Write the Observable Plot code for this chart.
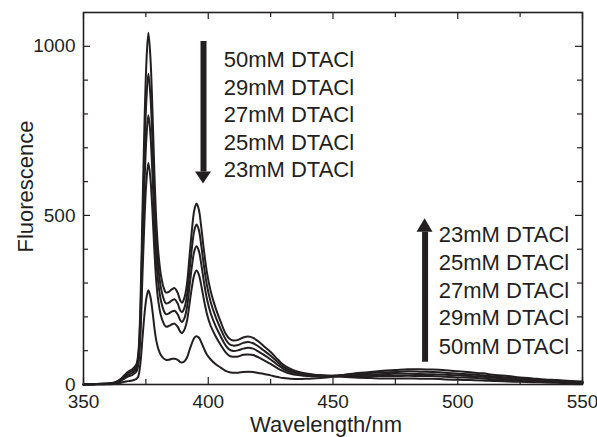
<!DOCTYPE html>
<html><head><meta charset="utf-8">
<script src="https://cdn.jsdelivr.net/npm/d3@7"></script>
<script src="https://cdn.jsdelivr.net/npm/@observablehq/plot@0.6"></script>
<style>body{margin:0;background:#fff} #chart svg{display:block}</style>
</head><body><div id="chart"></div>
<script>
// ---- data ----
const wavelength = [350,354,358,361,363,365,366.5,368,369.5,370.5,
  371.3,372,372.8,373.6,374.4,375.2,376,376.8,377.6,378.4,
  379.2,380,381,382,383,384.2,385.5,386.5,387.7,388.8,
  389.5,390.5,391.5,392.5,393.5,394.4,395.3,396.2,397.2,398.3,
  399.5,401,403,405,407,408.5,410,412,414,416,
  418,420,422,425,428,430,433,436,440,445,
  450,455,460,465,470,475,480,485,490,495,
  500,505,510,515,520,525,530,535,540,545,550];
const fl50mM = [0,1,2,4,8,17,28,38,45,52, 62,95,230,500,760,950,1040,970,820,630, 480,390,325,290,272,274,282,285,272,248, 242,258,300,380,460,515,535,518,465,395, 330,275,225,185,150,135,130,132,139,142, 138,128,115,96,73,59,46,38,32,27, 24,22,20,19,18,18,18,17,17,15, 14,13,12,10,9,8,7,6,5,4, 4];
const fl29mM = [0,1,2,4,7,15,25,34,40,46, 55,84,203,442,672,840,919,857,725,557, 424,345,287,256,240,242,249,252,240,219, 214,228,265,336,407,455,473,458,411,349, 292,243,199,164,133,119,115,117,123,126, 122,113,102,85,65,53,41,35,30,27, 25,25,24,25,25,25,26,25,25,23, 21,20,18,15,13,12,10,8,7,6, 5];
const fl27mM = [0,1,2,3,6,13,21,29,34,40, 47,73,176,383,581,727,796,742,627,482, 367,298,249,222,208,210,216,218,208,190, 185,197,230,291,352,394,409,396,356,302, 252,210,172,142,115,103,99,101,106,109, 106,98,89,74,57,47,37,32,28,26, 26,27,28,29,31,32,32,31,30,29, 27,25,23,20,17,15,12,11,9,8, 6];
const fl25mM = [0,1,1,3,5,11,18,24,28,33, 39,60,145,315,479,599,655,611,517,397, 302,246,205,183,171,173,178,180,171,156, 152,163,189,239,290,324,337,326,293,249, 208,173,142,117,95,85,82,83,88,89, 87,81,73,61,47,40,32,28,25,25, 26,29,31,34,36,37,39,38,37,35, 32,30,27,24,21,18,15,13,11,9, 7];
const fl23mM = [0,0,1,1,2,5,8,10,12,14, 17,25,62,134,204,255,279,260,220,169, 129,105,87,78,73,73,76,76,73,66, 65,69,80,102,123,138,143,139,125,106, 88,74,60,50,40,36,35,35,37,38, 37,34,32,27,22,19,17,16,17,19, 23,29,34,37,41,43,45,45,44,42, 39,36,33,28,25,21,18,15,13,10, 9];
const seriesNames = ["50mM","29mM","27mM","25mM","23mM"];
const seriesValues = [fl50mM, fl29mM, fl27mM, fl25mM, fl23mM];

const xMajorTicks = [350,400,450,500,550];
const xMinorTicks = [375,425,475,525];
const yMajorTicks = [0,500,1000];
const yMinorTicks = [100,200,300,400,600,700,800,900];

const downLabels = ["50mM DTACl","29mM DTACl","27mM DTACl","25mM DTACl","23mM DTACl"];
const upLabels   = ["23mM DTACl","25mM DTACl","27mM DTACl","29mM DTACl","50mM DTACl"];
const downLabelX = 406.2, downLabelY = [938, 857, 776, 694.5, 613];
const upLabelX = 492.4, upLabelY = [420.8, 339, 256.4, 174.5, 90.8];
const downArrow = {x: 398.1, from: 1014, base: 628, tip: 593, half: 3.2};
const upArrow   = {x: 486.9, from: 66, base: 450, tip: 490, half: 3.2};

// ---- layout ----
const ink = "#231f20";
const W = 597, H = 437, mL = 83, mR = 15, mT = 12, mB = 53;
const innerW = W - mL - mR, innerH = H - mT - mB;
const font = "'Liberation Sans', Arial, Helvetica, sans-serif";

const table = seriesNames.flatMap((name, k) =>
  wavelength.map((w, i) => ({wavelength: w, value: seriesValues[k][i], series: name})));

const head = a => [
  {x: a.x - a.half, y1: a.base, y2: a.base},
  {x: a.x, y1: a.tip, y2: a.base},
  {x: a.x + a.half, y1: a.base, y2: a.base}];

const major = 7, minor = 5;
const chart = Plot.plot({
  width: W, height: H,
  marginLeft: mL, marginRight: mR, marginTop: mT, marginBottom: mB,
  style: {fontFamily: font, background: "#fff", color: ink},
  x: {domain: [350, 550], axis: null},
  y: {domain: [0, 1100], axis: null},
  marks: [
    Plot.line(table, {x: "wavelength", y: "value", z: "series", stroke: ink, strokeWidth: 2, curve: "catmull-rom"}),
    // ticks (inward)
    Plot.ruleX(xMajorTicks, {x: d => d, insetTop: innerH - major, stroke: ink, strokeWidth: 1.2}),
    Plot.ruleX(xMinorTicks, {x: d => d, insetTop: innerH - minor, stroke: ink, strokeWidth: 1.2}),
    Plot.ruleX(xMajorTicks, {x: d => d, insetBottom: innerH - major, stroke: ink, strokeWidth: 1.2}),
    Plot.ruleX(xMinorTicks, {x: d => d, insetBottom: innerH - minor, stroke: ink, strokeWidth: 1.2}),
    Plot.ruleY(yMajorTicks, {y: d => d, insetRight: innerW - major, stroke: ink, strokeWidth: 1.2}),
    Plot.ruleY(yMinorTicks, {y: d => d, insetRight: innerW - minor, stroke: ink, strokeWidth: 1.2}),
    Plot.ruleY(yMajorTicks, {y: d => d, insetLeft: innerW - major, stroke: ink, strokeWidth: 1.2}),
    Plot.ruleY(yMinorTicks, {y: d => d, insetLeft: innerW - minor, stroke: ink, strokeWidth: 1.2}),
    Plot.frame({stroke: ink, strokeWidth: 1.6}),
    // tick labels
    Plot.text(xMajorTicks, {x: d => d, text: d => String(d), frameAnchor: "bottom", dy: 17.7, textAnchor: "middle", lineAnchor: "middle", fontSize: 19, fill: ink}),
    Plot.text(yMajorTicks, {y: d => d, text: d => String(d), frameAnchor: "left", dx: -8, textAnchor: "end", lineAnchor: "middle", fontSize: 19, fill: ink}),
    // axis titles
    Plot.text(["Wavelength/nm"], {frameAnchor: "bottom", dx: -7, dy: 47.5, textAnchor: "middle", lineAnchor: "bottom", fontSize: 22, fill: ink}),
    Plot.text(["Fluorescence"], {frameAnchor: "left", rotate: -90, dx: -51, dy: -12, textAnchor: "middle", lineAnchor: "bottom", fontSize: 22, fill: ink}),
    // arrows
    Plot.ruleX([downArrow], {x: "x", y1: "from", y2: "base", stroke: ink, strokeWidth: 6}),
    Plot.areaY(head(downArrow), {x: "x", y1: "y1", y2: "y2", fill: ink}),
    Plot.ruleX([upArrow], {x: "x", y1: "from", y2: "base", stroke: ink, strokeWidth: 6}),
    Plot.areaY(head(upArrow), {x: "x", y1: "y1", y2: "y2", fill: ink}),
    // annotation labels
    Plot.text(downLabels, {x: () => downLabelX, y: (d, i) => downLabelY[i], text: d => d, textAnchor: "start", lineAnchor: "bottom", fontSize: 22, fill: ink}),
    Plot.text(upLabels, {x: () => upLabelX, y: (d, i) => upLabelY[i], text: d => d, textAnchor: "start", lineAnchor: "bottom", fontSize: 22, fill: ink})
  ]
});
document.getElementById("chart").appendChild(chart);
</script>
</body></html>
